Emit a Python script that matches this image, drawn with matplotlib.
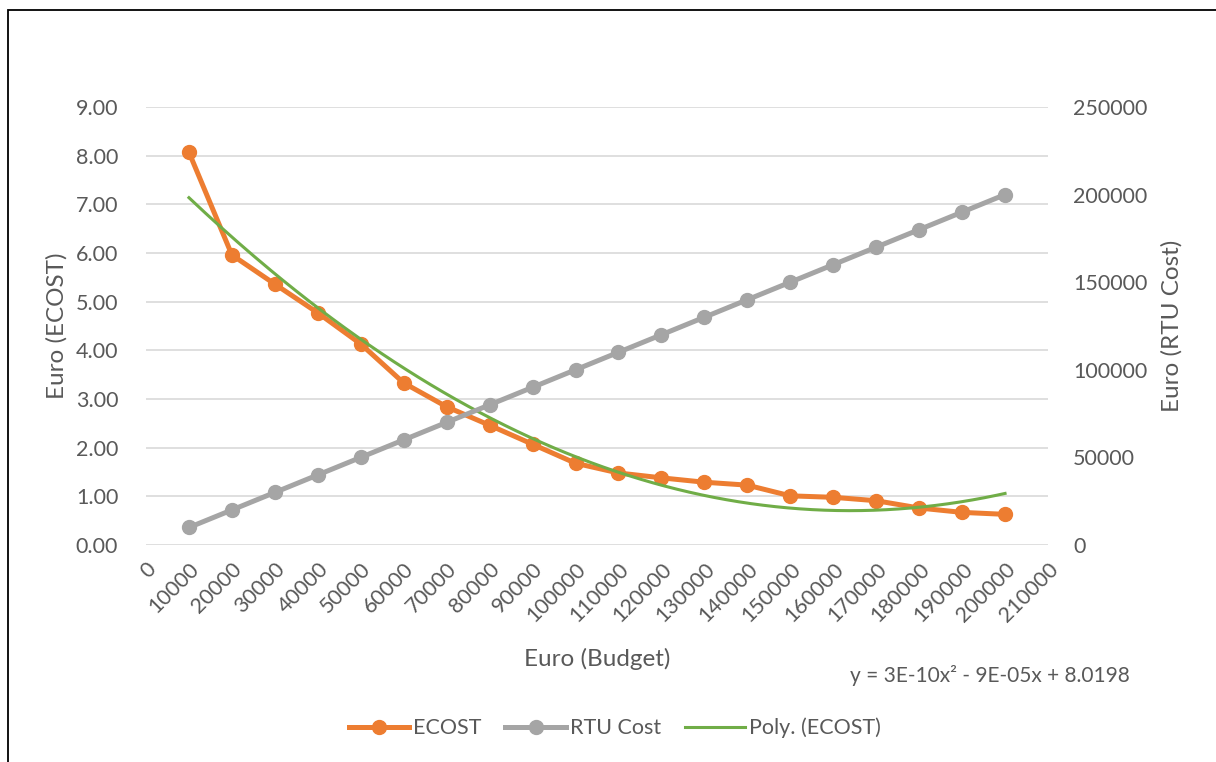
import numpy as np
import matplotlib
matplotlib.use("Agg")
import matplotlib.pyplot as plt
from matplotlib.patches import Rectangle

plt.rcParams['font.family'] = ['Lato', 'DejaVu Sans']

# data
budget = [10000, 20000, 30000, 40000, 50000, 60000, 70000, 80000, 90000, 100000,
          110000, 120000, 130000, 140000, 150000, 160000, 170000, 180000, 190000, 200000]
ecost = [8.07, 5.96, 5.36, 4.77, 4.13, 3.33, 2.84, 2.46, 2.07, 1.68,
         1.48, 1.38, 1.29, 1.23, 1.01, 0.98, 0.91, 0.76, 0.67, 0.63]
rtu_cost = [10000, 20000, 30000, 40000, 50000, 60000, 70000, 80000, 90000, 100000,
            110000, 120000, 130000, 140000, 150000, 160000, 170000, 180000, 190000, 200000]
x_ticks = list(range(0, 210001, 10000))
equation = "y = 3E-10x² - 9E-05x + 8.0198"

ORANGE = "#ED7D31"
GREY = "#A5A5A5"
GREEN = "#70AD47"
TXT = "#595959"

fig = plt.figure(figsize=(12.16, 7.62), dpi=100)
ax = fig.add_axes([146 / 1216, 1 - 545 / 762, (1048 - 146) / 1216, (545 - 107) / 762])
ax2 = ax.twinx()

# quadratic trendline fitted to the ECOST series (same as Excel's Poly. trendline)
coef = np.polyfit(budget, ecost, 2)
xt = np.linspace(budget[0], budget[-1], 200)

ax.plot(budget, ecost, color=ORANGE, lw=3.6, marker='o', ms=10, label='ECOST', zorder=3)
ax2.plot(budget, rtu_cost, color=GREY, lw=3.6, marker='o', ms=10, label='RTU Cost', zorder=3)
ax.plot(xt, np.polyval(coef, xt), color=GREEN, lw=2.2, label='Poly. (ECOST)', zorder=4)

ax.set_xlim(0, 210000)
ax.set_ylim(0, 9)
ax2.set_ylim(0, 250000)
ax.set_xticks(x_ticks)
ax.set_xticklabels([str(v) for v in x_ticks], rotation=45, ha='right', va='top',
                   rotation_mode='anchor')
ax.set_yticks(np.arange(0, 9.01, 1))
ax.set_yticklabels([f"{v:.2f}" for v in np.arange(0, 9.01, 1)])
ax2.set_yticks(range(0, 250001, 50000))

for a in (ax, ax2):
    for s in a.spines.values():
        s.set_visible(False)
    a.tick_params(length=0, labelsize=15.5, labelcolor=TXT)
ax.tick_params(axis='y', pad=20)
ax.tick_params(axis='x', pad=10)
ax2.tick_params(axis='y', pad=18)

ax.grid(axis='y', color='#D9D9D9', lw=1.2)
ax.set_axisbelow(True)

ax.set_xlabel('Euro (Budget)', fontsize=17.5, color=TXT, labelpad=16)
ax.set_ylabel('Euro (ECOST)', fontsize=17.5, color=TXT, labelpad=6)
ax2.set_ylabel('Euro (RTU Cost)', fontsize=17.5, color=TXT, labelpad=10)

fig.text(990 / 1216, 1 - 676 / 762, equation, fontsize=15, color=TXT, ha='center', va='center')

h1, l1 = ax.get_legend_handles_labels()
h2, l2 = ax2.get_legend_handles_labels()
handles = [h1[0], h2[0], h1[1]]
labels = [l1[0], l2[0], l1[1]]
fig.legend(handles, labels, loc='center', bbox_to_anchor=(615 / 1216, 1 - 728 / 762),
           ncol=3, frameon=False, fontsize=15.5, labelcolor=TXT, handlelength=2.8,
           handletextpad=0.2, columnspacing=1.1)

# outer chart border (cropped at right and bottom)
fig.patches.append(Rectangle((8 / 1216, -0.1), 1.2, 1 - 10 / 762 + 0.1, transform=fig.transFigure,
                             fill=False, ec='black', lw=1.3))

fig.savefig('out.png', dpi=100)
